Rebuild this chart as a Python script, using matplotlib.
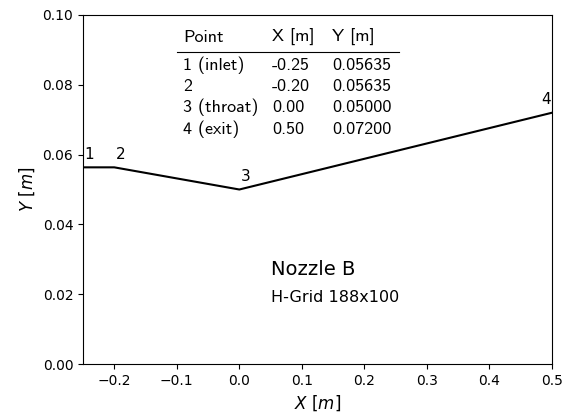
import matplotlib
matplotlib.use("Agg")
import matplotlib.pyplot as plt

# nozzle contour points
x_pts = [-0.25, -0.20, 0.00, 0.50]
y_pts = [0.05635, 0.05635, 0.05000, 0.07200]
pt_labels = ["1", "2", "3", "4"]

# table contents
tbl_header = ["Point", "X [m]", "Y [m]"]
tbl_names = ["1 (inlet)", "2", "3 (throat)", "4 (exit)"]
tbl_x = ["-0.25", "-0.20", "0.00", "0.50"]
tbl_y = ["0.05635", "0.05635", "0.05000", "0.07200"]

fig = plt.figure(figsize=(5.69, 4.17), dpi=100)
ax = fig.add_axes([83 / 569, 1 - 364 / 417, 469 / 569, 349 / 417])

ax.plot(x_pts, y_pts, color="k", lw=1.5)

# point labels
offs = [(0.002, 0.0015), (0.002, 0.0015), (0.002, 0.0015), (-0.017, 0.0015)]
for xp, yp, lab, (dx, dy) in zip(x_pts, y_pts, pt_labels, offs):
    ax.text(xp + dx, yp + dy, lab, fontsize=11, ha="left", va="bottom")

ax.set_xlim(-0.25, 0.5)
ax.set_ylim(0.0, 0.10)
ax.set_xlabel(r"$X\ [m]$", fontsize=12)
ax.set_ylabel(r"$Y\ [m]$", fontsize=12)
ax.tick_params(labelsize=10)

# table drawn as text
col_x = [0.2132, 0.403, 0.531]
head_y = 0.9235
row_y = [0.8424, 0.7817, 0.7209, 0.6602]
tfont = dict(fontsize=13, family=["cmss10", "DejaVu Sans"], va="baseline",
             ha="left", transform=ax.transAxes)
for cx, h in zip(col_x, tbl_header):
    ax.text(cx, head_y, h, **tfont)
ax.plot([0.2004, 0.6738], [0.8931, 0.8931], color="k", lw=0.8,
        transform=ax.transAxes, clip_on=False)
for ry, a, b, c in zip(row_y, tbl_names, tbl_x, tbl_y):
    ax.text(col_x[0], ry, a, **tfont)
    ax.text(col_x[1], ry, b, **tfont)
    ax.text(col_x[2], ry, c, **tfont)

ax.text(0.05, 0.027, "Nozzle B", fontsize=14, ha="left", va="center")
ax.text(0.05, 0.019, "H-Grid 188x100", fontsize=11.5, ha="left", va="center")

fig.savefig("out.png", dpi=100)
